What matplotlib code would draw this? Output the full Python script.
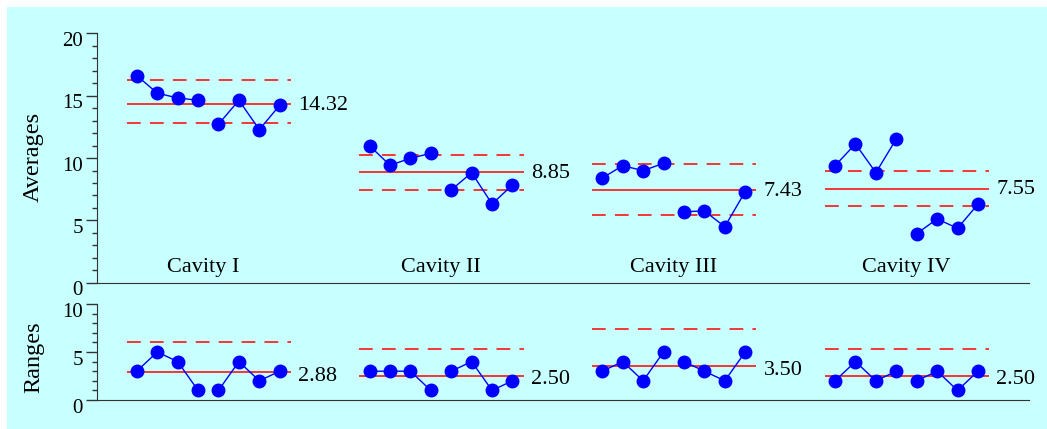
import numpy as np
import matplotlib
matplotlib.use("Agg")
import matplotlib.pyplot as plt
from matplotlib.patches import Rectangle
from matplotlib.ticker import MultipleLocator
import matplotlib.transforms as mtransforms

plt.rcParams['font.family'] = ['Liberation Serif', 'DejaVu Serif']

# data
cavities = ['Cavity I', 'Cavity II', 'Cavity III', 'Cavity IV']
avg_values = [
    [16.61, 15.20, 14.82, 14.63, 12.71, 14.63, 12.28, 14.23],
    [10.99, 9.42, 9.98, 10.38, 7.44, 8.83, 6.32, 7.84],
    [8.40, 9.39, 8.99, 9.58, 5.70, 5.76, 4.50, 7.31],
    [9.39, 11.13, 8.83, 11.53, 3.94, 5.12, 4.37, 6.30],
]
avg_center = [14.32, 8.85, 7.43, 7.55]
avg_ucl = [16.25, 10.25, 9.50, 8.94]
avg_lcl = [12.84, 7.44, 5.46, 6.13]

range_values = [
    [3, 5, 4, 1, 1, 4, 2, 3],
    [3, 3, 3, 1, 3, 4, 1, 2],
    [3, 4, 2, 5, 4, 3, 2, 5],
    [2, 4, 2, 3, 2, 3, 1, 3],
]
range_center = [2.88, 2.50, 3.50, 2.50]
range_ucl = [6.09, 5.29, 7.40, 5.29]

group_step = 11.4
bg = '#c8ffff'

fig = plt.figure(figsize=(10.47, 4.29), dpi=100)
fig.patch.set_facecolor('white')
fig.patches.append(Rectangle((7 / 1047, 0), 1 - 7 / 1047, 1 - 7 / 429,
                             transform=fig.transFigure, facecolor=bg,
                             edgecolor='none', zorder=-10))

W, H = 1047, 429
def px_axes(x0, x1, ytop, ybot):
    return fig.add_axes([x0 / W, 1 - ybot / H, (x1 - x0) / W, (ybot - ytop) / H])

ax_top = px_axes(97, 1029, 33.3, 282.8)
ax_bot = px_axes(97, 1029, 304, 400)

for ax in (ax_top, ax_bot):
    ax.set_facecolor('none')
    ax.set_xlim(-1.95, 43.7)
    ax.spines['top'].set_visible(False)
    ax.spines['right'].set_visible(False)
    ax.spines['left'].set_color('#333333')
    ax.spines['bottom'].set_color('#333333')
    ax.set_xticks([])
    ax.tick_params(axis='y', which='major', length=8, width=1, color='#333333',
                   labelsize=15, pad=2)
    ax.tick_params(axis='y', which='minor', length=3.5, width=1, color='#333333')
    ax.yaxis.set_minor_locator(MultipleLocator(1))
    ax.yaxis.set_major_locator(MultipleLocator(5))
    for lab in ax.get_yticklabels():
        lab.set_transform(lab.get_transform() +
                          mtransforms.ScaledTranslation(0, -4 / 72, fig.dpi_scale_trans))

ax_top.set_ylim(0, 20)
ax_bot.set_ylim(0, 10)

def draw_series(ax, x, vals):
    # two runs of four subgroups each, not joined in the middle
    for sl in (slice(0, 4), slice(4, 8)):
        ax.plot(x[sl], vals[sl], color='#0000ff', lw=1, marker='o', ms=9,
                mec='#0000ff', mfc='#0000ff', zorder=3)

xs = np.arange(8)
label_pos = [3.25, 3.5, 3.5, 3.5]
for g in range(4):
    off = g * group_step
    x = xs + off
    lo, hi = off - 0.5, off + 7.55

    # averages panel
    draw_series(ax_top, x, avg_values[g])
    ax_top.hlines(avg_center[g], lo, hi, color='#ff0000', lw=1.1, zorder=2)
    for lim in (avg_ucl[g], avg_lcl[g]):
        ax_top.hlines(lim, lo, hi, color='#ff0000', lw=1.1, linestyles=(0, (9, 6)), zorder=2)
    ax_top.text(off + 7.9, avg_center[g] - 0.1, f"{avg_center[g]:.2f}", fontsize=16,
                ha='left', va='center')
    ax_top.text(off + label_pos[g], 1.2, cavities[g], fontsize=16, ha='center', va='center')

    # ranges panel
    draw_series(ax_bot, x, range_values[g])
    ax_bot.hlines(range_center[g], lo, hi, color='#ff0000', lw=1.1, zorder=2)
    ax_bot.hlines(range_ucl[g], lo, hi, color='#ff0000', lw=1.1, linestyles=(0, (9, 6)), zorder=2)
    ax_bot.text(off + 7.9, range_center[g] - 0.4, f"{range_center[g]:.2f}", fontsize=16,
                ha='left', va='center')

fig.text(33 / W, 1 - 157 / H, 'Averages', rotation=90, fontsize=17.5, ha='center', va='center')
fig.text(34 / W, 1 - 357 / H, 'Ranges', rotation=90, fontsize=17.5, ha='center', va='center')

fig.savefig('out.png', dpi=100, facecolor=fig.get_facecolor())
